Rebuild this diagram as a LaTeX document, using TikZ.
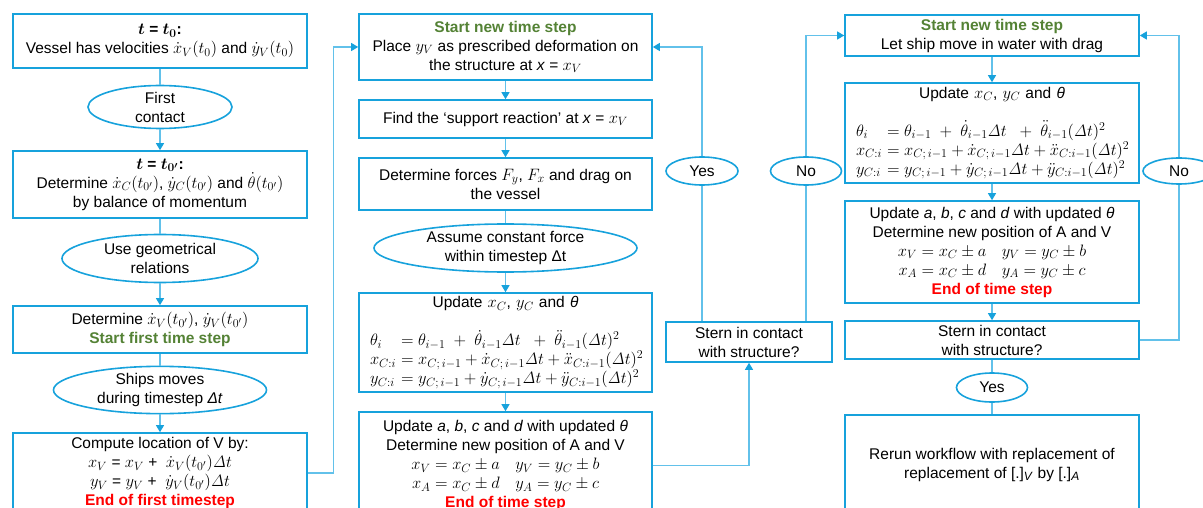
\documentclass[tikz,border=0pt]{standalone}
\usepackage{fix-cm}
\usepackage{amsmath}
\usepackage[no-math]{fontspec}
\setmainfont{Liberation Sans}
\usetikzlibrary{arrows.meta,shapes.geometric,positioning}
\DeclareMathSizes{15.5}{16.5}{12}{9}
\definecolor{frame}{HTML}{17A2DC}
\definecolor{wire}{HTML}{62C1EA}
\definecolor{startgreen}{HTML}{548235}
\definecolor{endred}{HTML}{FF0000}
\newcommand{\greentxt}[1]{\textcolor{startgreen}{\bfseries #1}}
\newcommand{\redtxt}[1]{\textcolor{endred}{\bfseries #1}}
\newcommand{\dT}{\mathit{\Delta}t}
\newcommand{\eqrow}[2]{\makebox[\linewidth][l]{\makebox[31pt][l]{$#1$}$#2$}}
\tikzset{blk/.style={draw=frame, line width=1.6pt, minimum width=294pt, inner sep=0pt, align=center, font=\fontsize{15.5}{19}\selectfont}, oval/.style={ellipse, draw=frame, line width=1.6pt, inner sep=0pt, align=center, font=\fontsize{15.5}{19}\selectfont}, link/.style={draw=wire, line width=1.1pt}, flow/.style={link, -{Triangle[length=7pt,width=8pt,color=frame]}}}

\begin{document}
\begin{tikzpicture}[x=1pt,y=-1pt]
\useasboundingbox (0,0) rectangle (1203,508);
\node[blk, minimum height=54pt] (init) at (160,41) {{\bfseries\boldmath$t$ = $t_0$:}\\Vessel has velocities $\dot x_V(t_0)$ and $\dot y_V(t_0)$};
\node[oval, minimum width=144pt, minimum height=38pt] (contact) at (160,107) {First\\contact};
\node[blk, minimum height=67pt] (momentum) at (160,184.5) {{\bfseries\boldmath$t$ = $t_{0'}$:}\\Determine $\dot x_C(t_{0'})$, $\dot y_C(t_{0'})$ and $\dot\theta(t_{0'})$\\by balance of momentum};
\node[oval, minimum width=196pt, minimum height=48pt] (geom) at (160,258.5) {Use geometrical\\relations};
\node[blk, minimum height=47pt] (firstV) at (160,329.5) {Determine $\dot x_V(t_{0'})$, $\dot y_V(t_{0'})$\\\greentxt{Start first time step}};
\node[oval, minimum width=213pt, minimum height=42pt] (shipmove) at (160,390) {Ships moves\\during timestep \textit{Δt}};
\node[blk, minimum height=80pt] (locV) at (160,473) {Compute location of V by:\\$x_V$ = $x_V$ + \ $\dot x_V(t_{0'})\dT$\\$y_V$ = $y_V$ + \ $\dot y_V(t_{0'})\dT$\\\redtxt{End of first timestep}};

\node[blk, minimum width=293pt, minimum height=66pt] (place) at (505.5,47) {\greentxt{Start new time step}\\Place $y_V$ as prescribed deformation on\\the structure at \textit{x} = $x_V$};
\node[blk, minimum width=293pt, minimum height=38pt] (support) at (505.5,119) {Find the ‘support reaction’ at \textit{x} = $x_V$};
\node[blk, minimum width=293pt, minimum height=52pt] (forces) at (505.5,184) {Determine forces $F_y$, $F_x$ and drag on\\the vessel};
\node[oval, minimum width=263pt, minimum height=48pt] (constF) at (505.5,248) {Assume constant force\\within timestep Δt};
\node[blk, minimum width=293pt, text width=271pt, minimum height=99pt] (updM) at (505.5,342.5) {Update $x_C$, $y_C$ and \textit{θ}\\[19pt]\eqrow{\theta_i}{= \theta_{i-1} \;+\; \dot\theta_{i-1}\dT \;\;+\; \ddot\theta_{i-1}(\dT)^2}\\\eqrow{x_{C:i}}{= x_{C;\,i-1} + \dot x_{C;\,i-1}\dT + \ddot x_{C:i-1}(\dT)^2}\\\eqrow{y_{C:i}}{= y_{C;\,i-1} + \dot y_{C;\,i-1}\dT + \ddot y_{C:i-1}(\dT)^2}};
\node[blk, minimum width=293pt, minimum height=107pt] (posM) at (505.5,465.5) {Update \textit{a}, \textit{b}, \textit{c} and \textit{d} with updated \textit{θ}\\Determine new position of A and V\\$x_V = x_C \pm a \quad y_V = y_C \pm b$\\$x_A = x_C \pm d \quad y_A = y_C \pm c$\\\redtxt{End of time step}};

\node[blk, minimum width=166pt, minimum height=40pt] (sternM) at (749,342) {Stern in contact\\with structure?};
\node[oval, minimum width=72pt, minimum height=28pt] (yesM) at (702,171) {Yes};
\node[oval, minimum width=71pt, minimum height=28pt] (noM) at (806,171) {No};

\node[blk, minimum height=41pt] (moveR) at (992,35.5) {\greentxt{Start new time step}\\Let ship move in water with drag};
\node[blk, text width=272pt, minimum height=100pt] (updR) at (992,133) {Update $x_C$, $y_C$ and \textit{θ}\\[19pt]\eqrow{\theta_i}{= \theta_{i-1} \;+\; \dot\theta_{i-1}\dT \;\;+\; \ddot\theta_{i-1}(\dT)^2}\\\eqrow{x_{C:i}}{= x_{C;\,i-1} + \dot x_{C;\,i-1}\dT + \ddot x_{C:i-1}(\dT)^2}\\\eqrow{y_{C:i}}{= y_{C;\,i-1} + \dot y_{C;\,i-1}\dT + \ddot y_{C:i-1}(\dT)^2}};
\node[blk, minimum height=102pt] (posR) at (992,252) {Update \textit{a}, \textit{b}, \textit{c} and \textit{d} with updated \textit{θ}\\Determine new position of A and V\\$x_V = x_C \pm a \quad y_V = y_C \pm b$\\$x_A = x_C \pm d \quad y_A = y_C \pm c$\\\redtxt{End of time step}};
\node[blk, minimum height=38pt] (sternR) at (992,340) {Stern in contact\\with structure?};
\node[oval, minimum width=71pt, minimum height=29pt] (yesR) at (992,387.5) {Yes};
\node[blk, minimum height=99pt] (rerun) at (992,464.5) {Rerun workflow with replacement of\\replacement of [.]\textsubscript{\textit{V}} by [.]\textsubscript{\textit{A}}};
\node[oval, minimum width=72pt, minimum height=26pt] (noR) at (1179,171) {No};

\draw[link] (init) -- (contact); \draw[flow] (contact) -- (momentum);
\draw[link] (momentum) -- (geom); \draw[flow] (geom) -- (firstV);
\draw[link] (firstV) -- (shipmove); \draw[flow] (shipmove) -- (locV);
\draw[flow] (locV.east) -- ++(26,0) |- (place.west);
\draw[flow] (place) -- (support); \draw[flow] (support) -- (forces);
\draw[link] (forces) -- (constF); \draw[flow] (constF) -- (updM); \draw[flow] (updM) -- (posM);
\draw[flow] (posM.east) -| (sternM.south);
\draw[link] (yesM |- sternM.north) -- (yesM); \draw[flow] (yesM) |- (place.east);
\draw[link] (noM |- sternM.north) -- (noM); \draw[flow] (noM) |- (moveR.west);
\draw[flow] (moveR) -- (updR); \draw[flow] (updR) -- (posR); \draw[flow] (posR) -- (sternR);
\draw[link] (sternR) -- (yesR) -- (rerun);
\draw[link] (sternR.east) -| (noR); \draw[flow] (noR) |- (moveR.east);
\end{tikzpicture}
\end{document}
